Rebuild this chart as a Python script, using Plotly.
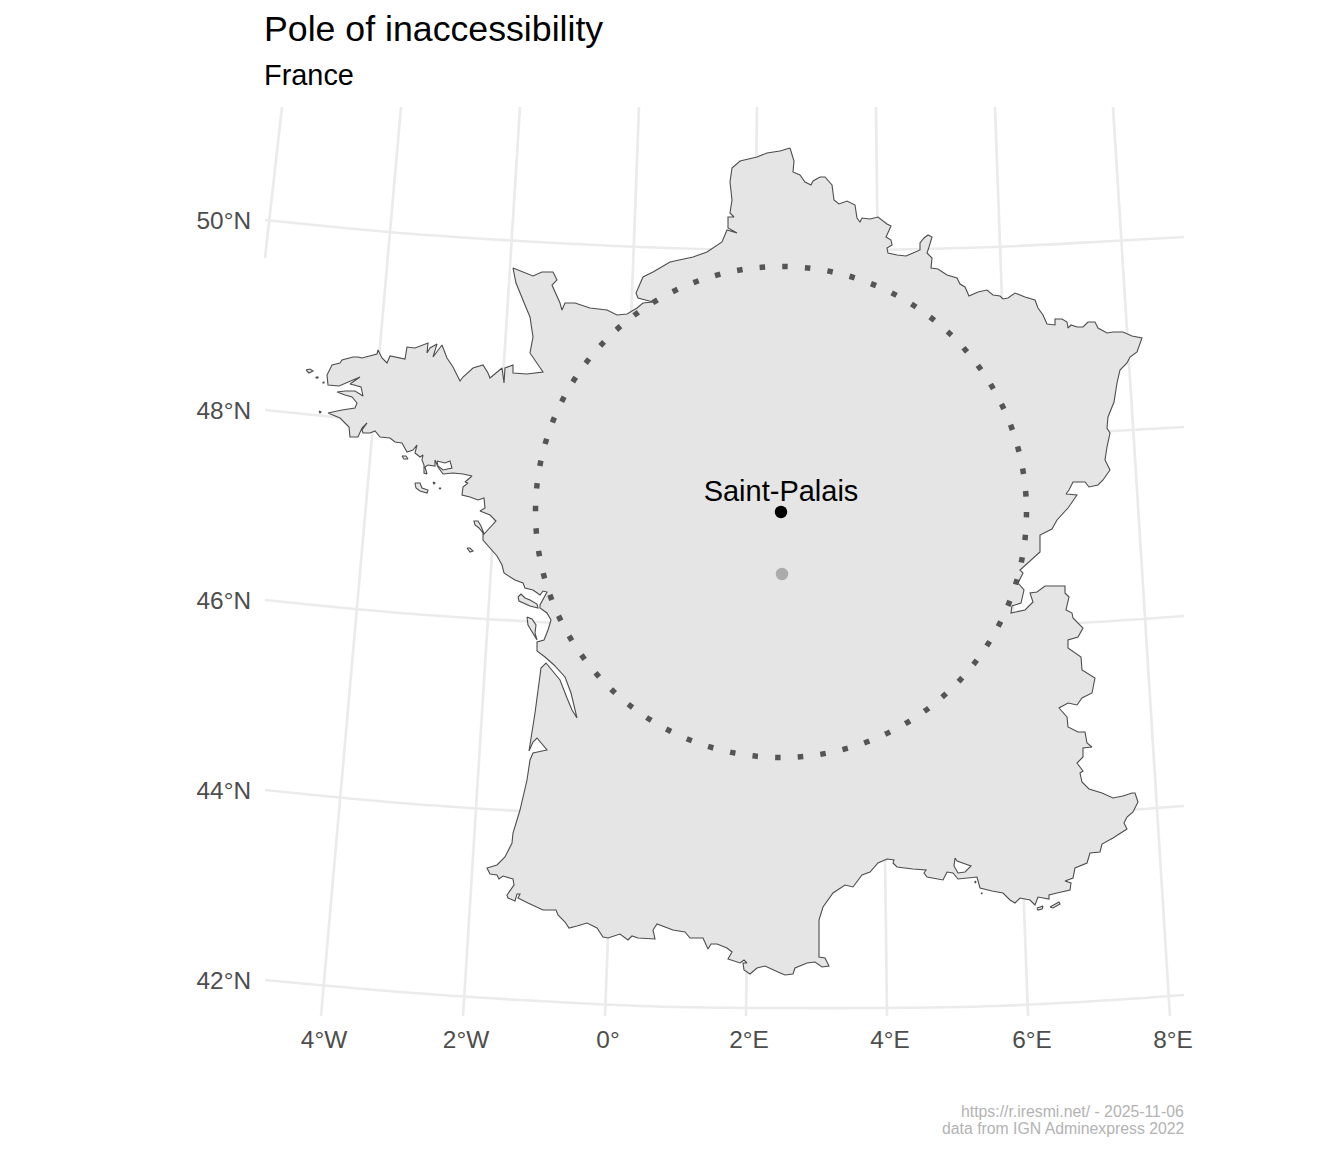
"""Pole of inaccessibility of mainland France, redrawn with Plotly.

The coast and the graticule were read off the picture, so the x and y values
below are in map units of the picture (1 unit = 1 pixel of the 1344x1152 image).
"""

import plotly.graph_objects as go

# ----------------------------------------------------------------------------
# data
# ----------------------------------------------------------------------------

NORTH_BORDER = [
    (790, 148), (794, 161), (793, 172), (800, 175), (805, 182), (811, 185), (813, 181), (820, 177),
    (825, 177), (832, 185), (834, 200), (839, 204), (847, 201), (855, 205), (857, 218), (860, 222),
    (862, 218), (870, 219), (878, 217), (887, 224), (891, 226), (886, 237), (891, 240), (892, 245),
    (887, 248), (888, 253), (897, 255), (906, 256), (913, 253), (920, 250), (920, 243), (924, 238),
    (928, 235), (932, 237), (929, 247), (927, 253), (932, 258), (931, 268), (938, 269), (947, 275),
    (957, 278), (960, 284), (965, 287), (969, 296), (978, 292), (987, 290), (993, 295), (1000, 296),
    (1003, 299), (1008, 298), (1015, 293), (1025, 297), (1035, 300), (1038, 308), (1043, 315),
    (1047, 324), (1055, 325), (1055, 319), (1062, 319), (1067, 322), (1068, 328), (1071, 325),
    (1077, 327), (1083, 327), (1088, 322), (1095, 322), (1098, 328), (1107, 333), (1113, 332),
    (1123, 332), (1132, 336), (1142, 338),
]
EAST_BORDER = [
    (1137, 352), (1130, 357), (1127, 363), (1120, 370), (1117, 383), (1114, 402), (1108, 417),
    (1107, 428), (1110, 433), (1107, 447), (1105, 460), (1110, 470), (1103, 480), (1098, 485),
    (1089, 487), (1085, 482), (1073, 482), (1069, 490), (1066, 494), (1077, 495), (1068, 508),
    (1057, 520), (1052, 529), (1040, 535), (1040, 552), (1020, 570), (1023, 573), (1018, 583),
    (1024, 590), (1021, 603), (1012, 606), (1011, 613), (1025, 610), (1033, 602), (1030, 593),
    (1037, 592), (1045, 586), (1065, 586), (1065, 593), (1069, 597), (1066, 610), (1072, 613),
    (1073, 618), (1083, 628), (1078, 637), (1068, 640), (1068, 648), (1081, 657), (1082, 670),
    (1095, 678), (1092, 693), (1082, 698), (1077, 705), (1068, 703), (1059, 708), (1067, 717),
    (1068, 727), (1078, 732), (1085, 732), (1087, 743), (1092, 747), (1083, 748), (1083, 757),
    (1077, 763), (1083, 771), (1080, 773), (1082, 782), (1089, 789), (1102, 793), (1113, 798),
    (1123, 796), (1132, 793), (1135, 793), (1138, 802),
]
MEDITERRANEAN_COAST = [
    (1133, 812), (1127, 817), (1124, 823), (1127, 829), (1113, 838), (1102, 844), (1100, 852),
    (1090, 853), (1087, 863), (1075, 868), (1073, 878), (1065, 881), (1071, 883), (1070, 890),
    (1057, 893), (1049, 895), (1049, 899), (1038, 897), (1035, 905), (1030, 900), (1020, 898),
    (1015, 903), (1010, 900), (1003, 893), (992, 891), (980, 888), (977, 877), (958, 879),
    (953, 873), (947, 872), (943, 880), (927, 877), (924, 873), (926, 870), (913, 869), (897, 867),
    (893, 863), (894, 860), (887, 859), (878, 863), (870, 872), (862, 875), (853, 887), (845, 885),
    (833, 893), (823, 907), (819, 920), (819, 957), (825, 958), (829, 966), (822, 967), (815, 962),
    (807, 963), (795, 968), (793, 974),
]
PYRENEES_BORDER = [
    (785, 975), (778, 972), (765, 966), (757, 968), (750, 974), (744, 970), (743, 963), (747, 963),
    (744, 960), (740, 963), (728, 959), (732, 952), (727, 948), (717, 944), (711, 944), (708, 949),
    (703, 938), (690, 938), (685, 932), (673, 930), (657, 924), (653, 930), (655, 939), (638, 938),
    (632, 936), (628, 940), (620, 934), (608, 938), (603, 937), (597, 928), (587, 923), (577, 926),
    (569, 928), (565, 922), (558, 915), (556, 910), (543, 910), (528, 903), (518, 898), (520, 894),
    (517, 894), (515, 901), (508, 898), (507, 895), (514, 885), (513, 879), (503, 876), (499, 879),
    (497, 875), (490, 874), (487, 868),
]
ATLANTIC_COAST = [
    (497, 865), (505, 857), (512, 843), (513, 833), (520, 810), (527, 780), (530, 760), (533, 753),
    (547, 750), (537, 738), (533, 742), (529, 751), (535, 713), (541, 673), (541, 668), (546, 663),
    (550, 668), (560, 680), (567, 698), (572, 710), (577, 718), (575, 710), (571, 693), (565, 677),
    (554, 665), (545, 657), (537, 651), (537, 642), (544, 640), (548, 630), (551, 620), (547, 613),
    (540, 608), (540, 605), (547, 592), (543, 591), (540, 595), (533, 590), (525, 588), (523, 583),
    (515, 580), (504, 573), (502, 565), (497, 556), (487, 545), (483, 540), (483, 533), (479, 528),
    (475, 525), (474, 521), (478, 521), (481, 526), (484, 534), (492, 525), (496, 521), (490, 515),
    (480, 511), (485, 508), (484, 498), (478, 500), (470, 497), (462, 495), (463, 487), (468, 483),
    (465, 482), (472, 476), (463, 474), (453, 473), (443, 474),
]
BRITTANY_COAST = [
    (438, 467), (435, 460), (435, 466), (428, 465), (425, 467), (427, 474), (424, 473), (424, 465),
    (422, 460), (423, 455), (420, 457), (415, 453), (417, 445), (413, 450), (407, 452), (402, 443),
    (395, 442), (390, 438), (380, 437), (375, 431), (370, 433), (363, 433), (362, 430), (367, 423),
    (362, 428), (358, 437), (350, 437), (349, 427), (340, 418), (328, 413), (342, 410), (355, 408),
    (357, 403), (352, 397), (345, 395), (337, 392), (345, 391), (355, 391), (363, 396), (361, 387),
    (354, 385), (350, 384), (360, 377), (350, 381), (342, 385), (339, 386), (328, 385), (327, 375),
    (332, 365), (340, 363), (342, 360), (353, 357), (358, 357), (362, 358), (377, 354), (378, 350),
    (382, 358), (387, 363), (390, 356), (402, 358), (405, 359), (407, 347), (415, 348), (428, 343),
    (427, 353), (430, 348), (437, 344), (433, 357), (440, 348), (442, 345), (447, 358), (453, 367),
    (460, 381), (463, 377), (473, 368), (483, 365), (488, 373), (490, 378), (502, 368), (504, 383),
    (505, 368), (513, 365), (513, 373), (527, 374), (543, 372),
]
CHANNEL_COAST = [
    (530, 353), (533, 337), (530, 317), (525, 305), (518, 288), (516, 283), (513, 268), (523, 272),
    (533, 276), (542, 272), (553, 272), (557, 280), (552, 285), (560, 303), (562, 310), (565, 303),
    (575, 303), (590, 308), (607, 310), (617, 315), (627, 314), (637, 308), (643, 303), (653, 302),
    (638, 298), (636, 293), (643, 277), (653, 272), (670, 262), (693, 257), (707, 252), (722, 242),
    (727, 230), (737, 233), (728, 228), (728, 217), (734, 217), (730, 213), (732, 200), (730, 182),
    (732, 168), (740, 161), (757, 157), (767, 153), (780, 151),
]

ISLANDS = [
    [(518, 597), (521, 594), (525, 598), (530, 600), (537, 604), (538, 608), (530, 606), (524, 603), (519, 601)],
    [(527, 617), (532, 619), (536, 625), (535, 633), (537, 640), (532, 632), (528, 625)],
    [(415, 483), (420, 483), (422, 488), (428, 490), (427, 493), (420, 491), (416, 488)],
    [(402, 456), (406, 456), (408, 459), (404, 459)],
    [(467, 548), (470, 548), (473, 551), (470, 552)],
    [(306, 370), (310, 369), (313, 371), (309, 373)],
    [(316, 377), (318, 377), (318, 378), (316, 378)],
    [(323, 382), (324, 382), (324, 383), (323, 383)],
    [(319, 411), (321, 412), (320, 413)],
    [(433, 482), (435, 483), (434, 484)],
    [(439, 488), (441, 488), (440, 489)],
    [(1037, 908), (1043, 906), (1042, 909), (1038, 910)],
    [(1050, 907), (1059, 902), (1060, 904), (1053, 908)],
    [(975, 881), (976, 882), (975, 883)],
    [(981, 893), (982, 893), (982, 894)],
]
BERRE_LAGOON = [(955, 858), (954, 866), (958, 873), (965, 872), (971, 866), (963, 863), (957, 861)]
MORBIHAN_GULF = [(437, 461), (445, 463), (450, 461), (452, 468), (443, 470), (438, 466)]

# graticule, read along the map from left to right and from top to bottom
PARALLEL_X = [265, 400, 520, 640, 757, 876, 995, 1113, 1184]
PARALLELS_Y = {
    "50°N": [220, 233, 241, 247, 250, 250, 247, 241, 237],
    "48°N": [410, 423, 431, 437, 440, 440, 437, 431, 427],
    "46°N": [600, 613, 621, 627, 630, 630, 627, 621, 616],
    "44°N": [790, 803, 811, 817, 820, 820, 817, 811, 806],
    "42°N": [980, 992, 1000, 1006, 1008, 1008, 1006, 1000, 995],
}
MERIDIAN_Y = [107, 1016]
MERIDIANS_X = {
    "4°W": [401, 321],
    "2°W": [520, 463],
    "0°": [639, 605],
    "2°E": [757, 746],
    "4°E": [876, 887],
    "6°E": [995, 1028],
    "8°E": [1113, 1170],
}
MERIDIAN_6W_X = [282, 265]
MERIDIAN_6W_Y = [107, 258]

X_TICK_POS = [324, 466, 608, 749, 890, 1032, 1173]
X_TICK_TEXT = list(MERIDIANS_X)
Y_TICK_POS = [220, 410, 600, 790, 980]
Y_TICK_TEXT = list(PARALLELS_Y)

POLE_X, POLE_Y = 781, 512
POLE_RADIUS = 245.5
PLACE_NAME = "Saint-Palais"
PLACE_LABEL_Y = 494
CENTROID_X, CENTROID_Y = 782, 574

FONT = "Liberation Sans"
GRID = "#EBEBEB"
OUTLINE = "#4D4D4D"

# panel edges, in map units
LEFT, RIGHT, TOP, BOTTOM = 264, 1184, 106, 1016


def rings_to_xy(rings):
    """Flatten a list of closed rings into x and y lists, with None between rings."""
    xs, ys = [], []
    for ring in rings:
        xs += [p[0] for p in ring] + [ring[0][0], None]
        ys += [p[1] for p in ring] + [ring[0][1], None]
    return xs, ys


def add_text(fig, text, x, y, anchor, size, color):
    """Text outside the panel: annotations on data refs would be hidden there."""
    fig.add_annotation(text=text, xref="paper", yref="paper",
                       x=(x - LEFT) / (RIGHT - LEFT), y=(BOTTOM - y) / (BOTTOM - TOP),
                       xanchor=anchor, yanchor="middle", showarrow=False,
                       font=dict(family=FONT, size=size, color=color))


mainland = (NORTH_BORDER + EAST_BORDER + MEDITERRANEAN_COAST + PYRENEES_BORDER
            + ATLANTIC_COAST + BRITTANY_COAST + CHANNEL_COAST)

fig = go.Figure()

# grid first, the land covers it
for label, ys in PARALLELS_Y.items():
    fig.add_trace(go.Scatter(x=PARALLEL_X, y=ys, mode="lines", hoverinfo="skip", name=label,
                             line=dict(color=GRID, width=2.7, shape="spline")))
for label, xs in MERIDIANS_X.items():
    fig.add_trace(go.Scatter(x=xs, y=MERIDIAN_Y, mode="lines", hoverinfo="skip", name=label,
                             line=dict(color=GRID, width=2.7)))
fig.add_trace(go.Scatter(x=MERIDIAN_6W_X, y=MERIDIAN_6W_Y, mode="lines", hoverinfo="skip",
                         line=dict(color=GRID, width=2.7)))

land_x, land_y = rings_to_xy([mainland] + ISLANDS)
fig.add_trace(go.Scatter(x=land_x, y=land_y, mode="lines", fill="toself", fillcolor="#E5E5E5",
                         line=dict(color=OUTLINE, width=1.1), hoverinfo="skip", name="France"))

hole_x, hole_y = rings_to_xy([BERRE_LAGOON, MORBIHAN_GULF])
fig.add_trace(go.Scatter(x=hole_x, y=hole_y, mode="lines", fill="toself", fillcolor="white",
                         line=dict(color=OUTLINE, width=1.1), hoverinfo="skip"))

fig.add_trace(go.Scatter(x=[CENTROID_X], y=[CENTROID_Y], mode="markers",
                         marker=dict(color="#ABABAB", size=12.5), name="centroid"))
fig.add_trace(go.Scatter(x=[POLE_X], y=[POLE_Y], mode="markers",
                         marker=dict(color="black", size=12.5), name=PLACE_NAME))
fig.add_trace(go.Scatter(x=[POLE_X], y=[PLACE_LABEL_Y], mode="text", text=[PLACE_NAME],
                         textposition="middle center",
                         textfont=dict(family=FONT, size=29, color="black")))

# the largest empty circle, dotted
fig.add_shape(type="circle", xref="x", yref="y",
              x0=POLE_X - POLE_RADIUS, x1=POLE_X + POLE_RADIUS,
              y0=POLE_Y - POLE_RADIUS, y1=POLE_Y + POLE_RADIUS,
              line=dict(color="#555555", width=5.5, dash="5.5px,17.2px"))

# annotations sit 2px inside their anchor, so these x values are 2px past the panel edges
add_text(fig, "Pole of inaccessibility", LEFT - 2, 29, "left", 35.7, "black")
add_text(fig, "France", LEFT - 2, 75, "left", 28.9, "black")
add_text(fig, "https://r.iresmi.net/ - 2025-11-06", RIGHT + 2, 1111, "right", 15.8, "#B3B3B3")
add_text(fig, "data from IGN Adminexpress 2022", RIGHT + 2, 1128, "right", 15.8, "#B3B3B3")

# the page body adds 8px on each side, hence the smaller figure
fig.update_layout(
    width=1328, height=1136,
    margin=dict(l=LEFT - 8, r=1328 - (RIGHT - 8), t=TOP - 8, b=1136 - (BOTTOM - 8)),
    paper_bgcolor="white", plot_bgcolor="white",
    showlegend=False,
    xaxis=dict(range=[LEFT, RIGHT], showgrid=False, zeroline=False, showline=False, ticks="",
               tickmode="array", tickvals=X_TICK_POS, ticktext=X_TICK_TEXT, tickangle=0,
               ticklabelstandoff=7,
               tickfont=dict(family=FONT, size=24.4, color="#4D4D4D")),
    yaxis=dict(range=[BOTTOM, TOP], showgrid=False, zeroline=False, showline=False, ticks="",
               tickmode="array", tickvals=Y_TICK_POS, ticktext=Y_TICK_TEXT, ticklabelstandoff=12,
               tickfont=dict(family=FONT, size=24.4, color="#4D4D4D")),
)

fig.write_html("out.html")
